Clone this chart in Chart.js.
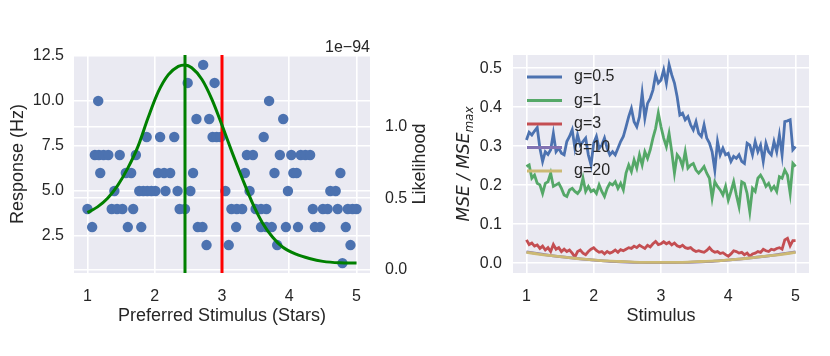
<!DOCTYPE html>
<html><head><meta charset="utf-8">
<script src="https://cdn.jsdelivr.net/npm/chart.js@4.4.1/dist/chart.umd.min.js"></script>
<style>
html,body{margin:0;padding:0;background:#fff;}
#wrap{position:relative;width:830px;height:356px;overflow:hidden;}
canvas{position:absolute;top:0;}
</style></head><body>
<div id="wrap">
<canvas id="c1" width="440" height="356" style="left:0px"></canvas>
<canvas id="c2" width="390" height="356" style="left:440px"></canvas>
</div>
<script>
// ---------------- data: left panel ----------------
const neuronPref = [
  4.79,
  2.77, 3.10, 3.82, 4.91,
  1.07, 1.60, 1.80, 2.64, 2.71, 3.21, 3.58, 3.66, 3.74, 3.95, 4.13, 4.38, 4.46, 4.84,
  1.00, 1.36, 1.44, 1.52, 1.68, 2.37, 2.45, 3.14, 3.22, 3.30, 3.50, 3.58, 3.66, 4.35, 4.50, 4.57, 4.72, 4.87, 4.94, 5.00,
  1.40, 1.77, 1.83, 1.89, 1.95, 2.01, 2.16, 2.34, 2.53, 3.05, 3.41, 3.98, 4.61, 4.69,
  1.19, 1.57, 1.65, 2.05, 2.14, 2.23, 2.57, 3.34, 3.78, 4.06, 4.11, 4.76,
  1.11, 1.17, 1.24, 1.31, 1.48, 1.72, 3.37, 3.46, 3.86, 4.03, 4.17, 4.24, 4.31,
  1.88, 2.08, 2.29, 2.86, 2.92, 2.98, 3.62,
  2.62, 2.81, 3.91,
  1.16, 3.70,
  2.49, 2.89,
  2.72
];
const neuronRate = [
  1,
  2, 2, 2, 2,
  3, 3, 3, 3, 3, 3, 3, 3, 3, 3, 3, 3, 3, 3,
  4, 4, 4, 4, 4, 4, 4, 4, 4, 4, 4, 4, 4, 4, 4, 4, 4, 4, 4, 4,
  5, 5, 5, 5, 5, 5, 5, 5, 5, 5, 5, 5, 5, 5,
  6, 6, 6, 6, 6, 6, 6, 6, 6, 6, 6, 6,
  7, 7, 7, 7, 7, 7, 7, 7, 7, 7, 7, 7, 7,
  8, 8, 8, 8, 8, 8, 8,
  9, 9, 9,
  10, 10,
  11, 11,
  12
];
const likeStim = [1.00,1.15,1.30,1.45,1.60,1.75,1.90,2.05,2.20,2.35,2.45,2.55,2.70,2.85,3.00,3.15,3.30,3.45,3.60,3.75,3.90,4.10,4.30,4.50,4.75,5.00];
const likeVal  = [0.40,0.44,0.50,0.59,0.71,0.86,1.06,1.24,1.36,1.42,1.43,1.41,1.33,1.19,1.01,0.82,0.64,0.47,0.33,0.23,0.16,0.11,0.08,0.06,0.05,0.048];
const mlStim = 2.45;     // green vertical line
const trueStim = 3.0;    // red vertical line
const stimTicks = [1, 2, 3, 4, 5];
const rateTicks = [2.5, 5.0, 7.5, 10.0, 12.5];
const likeTicks = [0.0, 0.5, 1.0];

// ---------------- data: right panel ----------------
const stimFine = [];
for (let i = 0; i <= 100; i++) stimFine.push(+(1 + 0.04 * i).toFixed(2));
const mseG05 = [0.316,0.336,0.329,0.339,0.348,0.295,0.261,0.286,0.279,0.291,
  0.333,0.286,0.295,0.282,0.278,0.312,0.325,0.342,0.295,0.329,
  0.303,0.312,0.321,0.278,0.252,0.308,0.325,0.295,0.303,0.321,
  0.295,0.278,0.286,0.278,0.295,0.312,0.325,0.350,0.376,0.397,
  0.363,0.350,0.376,0.436,0.372,0.410,0.423,0.444,0.483,0.462,
  0.470,0.496,0.462,0.509,0.483,0.462,0.427,0.380,0.385,0.368,
  0.376,0.355,0.342,0.363,0.333,0.325,0.355,0.321,0.308,0.286,
  0.239,0.312,0.278,0.295,0.278,0.282,0.261,0.274,0.269,0.278,
  0.261,0.256,0.308,0.303,0.278,0.312,0.286,0.303,0.261,0.308,
  0.286,0.278,0.312,0.286,0.329,0.278,0.363,0.365,0.368,0.291,0.299];
const mseG1 = [0.248,0.252,0.218,0.226,0.205,0.201,0.179,0.205,0.209,0.231,
  0.197,0.201,0.205,0.192,0.175,0.171,0.188,0.192,0.184,0.179,
  0.188,0.218,0.184,0.197,0.184,0.188,0.179,0.201,0.184,0.171,
  0.192,0.205,0.201,0.209,0.192,0.205,0.188,0.231,0.252,0.235,
  0.265,0.244,0.278,0.252,0.286,0.269,0.291,0.321,0.346,0.385,
  0.350,0.321,0.299,0.333,0.286,0.231,0.278,0.269,0.248,0.286,
  0.244,0.252,0.256,0.239,0.231,0.239,0.248,0.231,0.218,0.167,
  0.209,0.197,0.188,0.175,0.197,0.162,0.184,0.209,0.175,0.145,
  0.209,0.205,0.179,0.132,0.192,0.184,0.218,0.226,0.214,0.197,
  0.205,0.188,0.197,0.184,0.222,0.218,0.239,0.226,0.179,0.256,0.248];
const mseG3 = [0.060,0.048,0.052,0.044,0.047,0.038,0.044,0.034,0.040,0.030,
  0.048,0.036,0.040,0.030,0.036,0.030,0.034,0.026,0.016,0.030,
  0.034,0.026,0.022,0.030,0.036,0.040,0.033,0.028,0.030,0.024,
  0.030,0.026,0.029,0.034,0.028,0.035,0.032,0.036,0.040,0.038,
  0.044,0.040,0.046,0.042,0.038,0.046,0.042,0.050,0.056,0.048,
  0.050,0.055,0.050,0.054,0.047,0.052,0.045,0.042,0.046,0.040,
  0.038,0.040,0.034,0.030,0.032,0.030,0.028,0.033,0.040,0.032,
  0.028,0.030,0.025,0.027,0.022,0.018,0.024,0.032,0.030,0.026,
  0.028,0.022,0.026,0.018,0.024,0.026,0.030,0.028,0.036,0.032,
  0.030,0.036,0.034,0.038,0.040,0.036,0.060,0.064,0.045,0.058,0.058];
const stimCoarse = [1.0,1.2,1.4,1.6,1.8,2.0,2.2,2.4,2.6,2.8,3.0,3.2,3.4,3.6,3.8,4.0,4.2,4.4,4.6,4.8,5.0];
const mseG10 = [0.029,0.024,0.019,0.015,0.011,0.008,0.0055,0.0038,0.0025,0.0018,0.0015,0.0018,0.0025,0.0038,0.0055,0.008,0.011,0.015,0.019,0.024,0.029];
const mseG20 = [0.028,0.023,0.019,0.015,0.011,0.0085,0.006,0.0045,0.003,0.0023,0.002,0.0023,0.003,0.0045,0.006,0.0085,0.011,0.015,0.019,0.023,0.028];
const mseTicks = [0.0, 0.1, 0.2, 0.3, 0.4, 0.5];
const gainLabels = ['g=0.5', 'g=1', 'g=3', 'g=10', 'g=20'];

// ---------------- styling ----------------
const FONT = "'Liberation Sans', Arial, Helvetica, sans-serif";
const INK = '#262626';
const BG = '#EAEAF2';
const COLORS = ['#4C72B0', '#55A868', '#C44E52', '#8172B2', '#CCB974'];
Chart.defaults.font.family = FONT;
Chart.defaults.color = INK;

const bgPlugin = {
  id: 'bg',
  beforeDraw(chart) {
    const {ctx, chartArea: a} = chart;
    ctx.save();
    ctx.fillStyle = BG;
    ctx.fillRect(a.left, a.top, a.right - a.left, a.bottom - a.top);
    ctx.restore();
  }
};

function gridOpts() { return {color: '#ffffff', lineWidth: 1.6, drawTicks: false}; }
function setTicks(vals) { return s => { s.ticks = vals.map(v => ({value: v})); }; }
const pts = (xs, ys) => xs.map((x, i) => ({x: x, y: ys[i]}));

// ---------------- left chart ----------------
const rateMin = 0.45, rateMax = 12.55;
const leftText = {
  id: 'leftText',
  afterDraw(chart) {
    const ctx = chart.ctx, a = chart.chartArea;
    ctx.save();
    ctx.fillStyle = INK;
    ctx.font = '16px ' + FONT;
    ctx.textAlign = 'right';
    ctx.textBaseline = 'alphabetic';
    ctx.fillText('1e\u221294', a.right, 51.5);
    ctx.translate(420, (a.top + a.bottom) / 2);
    ctx.rotate(-Math.PI / 2);
    ctx.font = '18px ' + FONT;
    ctx.textAlign = 'center';
    ctx.textBaseline = 'middle';
    ctx.fillText('Likelihood', 0, 0);
    ctx.restore();
  }
};

new Chart(document.getElementById('c1'), {
  type: 'scatter',
  data: {
    datasets: [
      {label: 'likelihood', data: pts(likeStim, likeVal), yAxisID: 'y2', showLine: true,
       borderColor: '#008000', borderWidth: 3, pointRadius: 0, cubicInterpolationMode: 'monotone', order: 0},
      {label: 'ml', data: [{x: mlStim, y: rateMin}, {x: mlStim, y: rateMax}], yAxisID: 'y', showLine: true,
       borderColor: '#008000', borderWidth: 3, pointRadius: 0, order: 1},
      {label: 'true', data: [{x: trueStim, y: rateMin}, {x: trueStim, y: rateMax}], yAxisID: 'y', showLine: true,
       borderColor: '#FF0000', borderWidth: 3, pointRadius: 0, order: 1},
      {label: 'neurons', data: pts(neuronPref, neuronRate), yAxisID: 'y',
       backgroundColor: '#4C72B0', borderWidth: 0, pointRadius: 5.2, order: 2}
    ]
  },
  options: {
    responsive: false, animation: false, events: [], devicePixelRatio: 1,
    layout: {padding: {top: 55, left: 0, right: 0, bottom: 0}},
    plugins: {legend: {display: false}, tooltip: {enabled: false}},
    scales: {
      x: {type: 'linear', min: 0.8, max: 5.2, afterBuildTicks: setTicks(stimTicks),
          afterFit: s => { s.height = 83; },
          grid: gridOpts(), border: {display: false},
          ticks: {padding: 14, color: INK, font: {size: 16}, callback: v => String(v)},
          title: {display: true, text: 'Preferred Stimulus (Stars)', color: INK, font: {size: 18}, padding: {top: 0, bottom: 29}}},
      y: {type: 'linear', position: 'left', min: rateMin, max: rateMax, afterBuildTicks: setTicks(rateTicks),
          afterFit: s => { s.width = 74; },
          grid: gridOpts(), border: {display: false},
          ticks: {padding: 10, color: INK, font: {size: 16}, callback: v => v.toFixed(1)},
          title: {display: true, text: 'Response (Hz)', color: INK, font: {size: 18}, padding: {top: 7, bottom: 0}}},
      y2: {type: 'linear', position: 'right', min: -0.021, max: 1.499, afterBuildTicks: setTicks(likeTicks),
          afterFit: s => { s.width = 70; }, z: 1,
          grid: gridOpts(), border: {display: false},
          ticks: {padding: 15, color: INK, font: {size: 16}, callback: v => v.toFixed(1)}}
    }
  },
  plugins: [bgPlugin, leftText]
});

// ---------------- right chart ----------------
const rightText = {
  id: 'rightText',
  afterDraw(chart) {
    const ctx = chart.ctx, a = chart.chartArea;
    ctx.save();
    // legend (no frame)
    ctx.lineWidth = 2.8;
    ctx.lineCap = 'butt';
    gainLabels.forEach((lab, i) => {
      const y = 77 + 23.5 * i;
      ctx.strokeStyle = COLORS[i];
      ctx.beginPath(); ctx.moveTo(87, y); ctx.lineTo(122, y); ctx.stroke();
      ctx.fillStyle = INK;
      ctx.font = '16px ' + FONT;
      ctx.textAlign = 'left';
      ctx.textBaseline = 'middle';
      ctx.fillText(lab, 134, y);
    });
    // y label  MSE / MSE_max
    ctx.translate(22, (a.top + a.bottom) / 2);
    ctx.rotate(-Math.PI / 2);
    const mainFont = "italic 17px 'DejaVu Sans', sans-serif";
    const subFont = "italic 12px 'DejaVu Sans', sans-serif";
    ctx.font = mainFont; const w1 = ctx.measureText('MSE / MSE').width;
    ctx.font = subFont; const w2 = ctx.measureText('max').width;
    const x0 = -(w1 + w2) / 2;
    ctx.fillStyle = INK;
    ctx.textAlign = 'left';
    ctx.textBaseline = 'alphabetic';
    ctx.font = mainFont; ctx.fillText('MSE / MSE', x0, 7);
    ctx.font = subFont; ctx.fillText('max', x0 + w1, 11);
    ctx.restore();
  }
};

new Chart(document.getElementById('c2'), {
  type: 'scatter',
  data: {
    datasets: [
      {label: gainLabels[0], data: pts(stimFine, mseG05), showLine: true, borderColor: COLORS[0], borderWidth: 2.8, pointRadius: 0, order: 4},
      {label: gainLabels[1], data: pts(stimFine, mseG1), showLine: true, borderColor: COLORS[1], borderWidth: 2.8, pointRadius: 0, order: 3},
      {label: gainLabels[2], data: pts(stimFine, mseG3), showLine: true, borderColor: COLORS[2], borderWidth: 2.8, pointRadius: 0, order: 2},
      {label: gainLabels[3], data: pts(stimCoarse, mseG10), showLine: true, borderColor: COLORS[3], borderWidth: 2.8, pointRadius: 0, cubicInterpolationMode: 'monotone', order: 1},
      {label: gainLabels[4], data: pts(stimCoarse, mseG20), showLine: true, borderColor: COLORS[4], borderWidth: 2.8, pointRadius: 0, cubicInterpolationMode: 'monotone', order: 0}
    ]
  },
  options: {
    responsive: false, animation: false, events: [], devicePixelRatio: 1,
    layout: {padding: {top: 55, left: 0, right: 21, bottom: 0}},
    plugins: {legend: {display: false}, tooltip: {enabled: false}},
    scales: {
      x: {type: 'linear', min: 0.8, max: 5.2, afterBuildTicks: setTicks(stimTicks),
          afterFit: s => { s.height = 83; },
          grid: gridOpts(), border: {display: false},
          ticks: {padding: 14, color: INK, font: {size: 16}, callback: v => String(v)},
          title: {display: true, text: 'Stimulus', color: INK, font: {size: 18}, padding: {top: 0, bottom: 29}}},
      y: {type: 'linear', position: 'left', min: -0.025, max: 0.534, afterBuildTicks: setTicks(mseTicks),
          afterFit: s => { s.width = 73; },
          grid: gridOpts(), border: {display: false},
          ticks: {padding: 11, color: INK, font: {size: 16}, callback: v => v.toFixed(1)}}
    }
  },
  plugins: [bgPlugin, rightText]
});
</script>
</body></html>
